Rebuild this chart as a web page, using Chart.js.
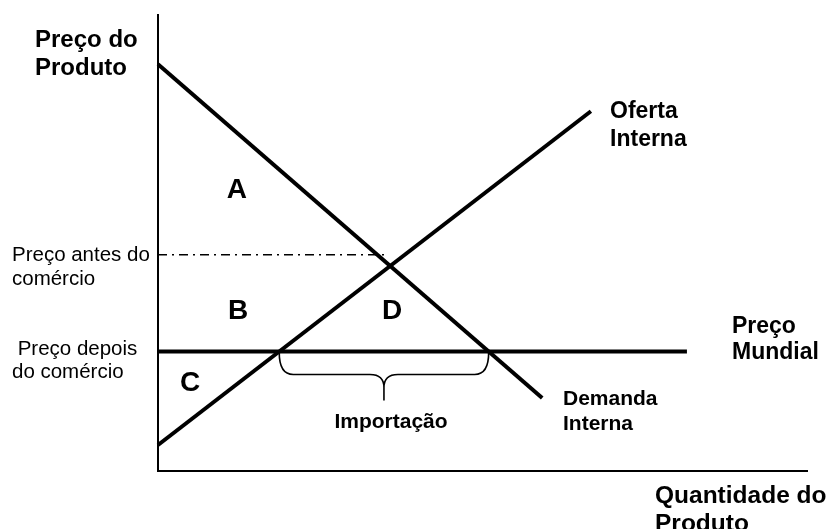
<!DOCTYPE html>
<html>
<head>
<meta charset="utf-8">
<script src="https://cdn.jsdelivr.net/npm/chart.js@4/dist/chart.umd.min.js"></script>
<style>
  html, body { margin: 0; padding: 0; background: #fff; }
  #wrap { width: 828px; height: 529px; }
</style>
</head>
<body>
<div id="wrap"><canvas id="c" width="828" height="529"></canvas></div>
<script>
// ---- data (quantity on x, price on y, arbitrary 0-100 units) ----
const demandQty   = [0, 59.2];
const demandPrice = [89.2, 16.0];
const supplyQty   = [0, 66.7];
const supplyPrice = [5.7, 78.9];
const worldQty    = [0, 81.5];
const worldPrice  = [26.2, 26.2];
const pretradeQty   = [0, 35.3];
const pretradePrice = [47.4, 47.4];

// ---- text annotations (anchored in data units) ----
const FONT = '"Liberation Sans", Arial, Helvetica, sans-serif';
const textLabels = [
  { lines: ['Preço do', 'Produto'], x: -18.95, y: 92.98, lh: 28, size: 24, bold: true },
  { lines: ['Oferta', 'Interna'], x: 69.65, y: 77.41, lh: 28, size: 23, bold: true },
  { lines: ['Preço', 'Mundial'], x: 88.44, y: 30.26, lh: 26, size: 23, bold: true },
  { lines: ['Demanda', 'Interna'], x: 62.40, y: 14.47, lh: 25, size: 21, bold: true },
  { lines: ['Importação'], x: 35.90, y: 9.43, lh: 25, size: 21, bold: true, align: 'center' },
  { lines: ['Quantidade do', 'Produto'], x: 76.58, y: -7.02, lh: 28, size: 24.5, bold: true },
  { lines: ['Preço antes do', 'comércio'], x: -22.5, y: 46.05, lh: 24, size: 20.5, bold: false },
  { lines: [' Preço depois', 'do comércio'], x: -22.5, y: 25.44, lh: 23, size: 20.5, bold: false },
  { lines: ['A'], x: 12.17, y: 59.87, lh: 28, size: 28, bold: true, align: 'center' },
  { lines: ['B'], x: 12.33, y: 33.33, lh: 28, size: 28, bold: true, align: 'center' },
  { lines: ['C'], x: 4.93,  y: 17.54, lh: 28, size: 28, bold: true, align: 'center' },
  { lines: ['D'], x: 36.06, y: 33.33, lh: 28, size: 28, bold: true, align: 'center' }
];

function pts(xs, ys) { return xs.map((x, i) => ({ x: x, y: ys[i] })); }
function crossX(xs, ys, level) {
  const t = (level - ys[0]) / (ys[1] - ys[0]);
  return xs[0] + t * (xs[1] - xs[0]);
}

const annotationPlugin = {
  id: 'annot',
  afterDatasetsDraw(chart) {
    const ctx = chart.ctx, xs = chart.scales.x, ys = chart.scales.y;
    ctx.save();
    // brace under the import gap
    const lvl = worldPrice[0];
    const xL = xs.getPixelForValue(crossX(supplyQty, supplyPrice, lvl));
    const xR = xs.getPixelForValue(crossX(demandQty, demandPrice, lvl));
    const y0 = ys.getPixelForValue(lvl) + 1;
    const xM = (xL + xR) / 2;
    const d1 = 22, d2 = 48, r = 14;
    ctx.strokeStyle = '#000';
    ctx.lineWidth = 1.6;
    ctx.lineJoin = 'round';
    ctx.beginPath();
    ctx.moveTo(xL, y0);
    ctx.quadraticCurveTo(xL, y0 + d1, xL + r, y0 + d1);
    ctx.lineTo(xM - r, y0 + d1);
    ctx.quadraticCurveTo(xM, y0 + d1, xM, y0 + d1 + 13);
    ctx.lineTo(xM, y0 + d2);
    ctx.moveTo(xM, y0 + d1 + 13);
    ctx.quadraticCurveTo(xM, y0 + d1, xM + r, y0 + d1);
    ctx.lineTo(xR - r, y0 + d1);
    ctx.quadraticCurveTo(xR, y0 + d1, xR, y0);
    ctx.stroke();

    // texts
    ctx.fillStyle = '#000';
    ctx.textBaseline = 'alphabetic';
    textLabels.forEach(l => {
      ctx.font = (l.bold ? 'bold ' : '') + l.size + 'px ' + FONT;
      ctx.textAlign = l.align || 'left';
      const px = xs.getPixelForValue(l.x);
      const py = ys.getPixelForValue(l.y);
      l.lines.forEach((s, i) => ctx.fillText(s, px, py + i * l.lh));
    });
    ctx.restore();
  }
};

const lineDs = (label, data, width, dash) => ({
  label, data, showLine: true, borderColor: '#000', backgroundColor: '#000',
  borderWidth: width, borderDash: dash || [], pointRadius: 0, pointHoverRadius: 0,
  borderCapStyle: 'butt', fill: false, clip: false, tension: 0
});

new Chart(document.getElementById('c'), {
  type: 'scatter',
  data: {
    datasets: [
      lineDs('Preço antes do comércio', pts(pretradeQty, pretradePrice), 1.5, [9, 5, 2, 5]),
      lineDs('Demanda Interna', pts(demandQty, demandPrice), 4),
      lineDs('Oferta Interna', pts(supplyQty, supplyPrice), 4),
      lineDs('Preço Mundial', pts(worldQty, worldPrice), 4)
    ]
  },
  options: {
    responsive: false,
    animation: false,
    devicePixelRatio: 1,
    layout: { padding: { left: 158, right: 21, top: 15, bottom: 58 } },
    plugins: { legend: { display: false }, tooltip: { enabled: false }, title: { display: false } },
    events: [],
    scales: {
      x: {
        type: 'linear', min: 0, max: 100,
        ticks: { display: false }, grid: { display: false, drawTicks: false },
        border: { display: true, color: '#000', width: 2 },
        afterFit(s) { s.height = 0; }
      },
      y: {
        type: 'linear', min: 0, max: 100,
        ticks: { display: false }, grid: { display: false, drawTicks: false },
        border: { display: true, color: '#000', width: 2 },
        afterFit(s) { s.width = 0; }
      }
    }
  },
  plugins: [annotationPlugin]
});
</script>
</body>
</html>
